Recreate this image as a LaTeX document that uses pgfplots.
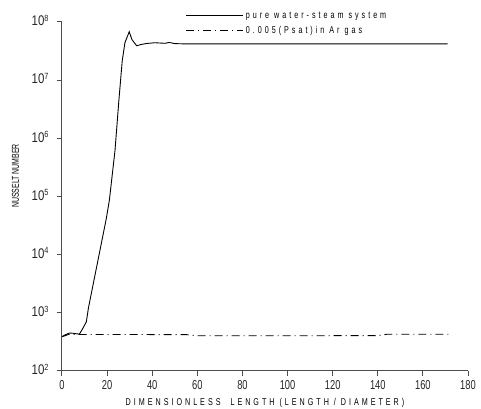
\documentclass[border=0pt]{standalone}
\usepackage{fontspec}
\usepackage{pgfplots}
\pgfplotsset{compat=1.18}
\newfontfamily\lab[FakeStretch=0.72, LetterSpace=30]{Liberation Sans}
\newfontfamily\ylab[FakeStretch=0.7]{Liberation Sans}
\newfontfamily\tck[FakeStretch=0.72]{Liberation Sans}
\newfontfamily\ytck[FakeStretch=0.82]{Liberation Sans}
\newcommand{\tp}[1]{10\raisebox{0.6ex}{\fontsize{9}{9}\selectfont #1}}
\begin{document}
\begin{tikzpicture}
\begin{axis}[
  name=ax,
  scale only axis,
  width=406bp, height=349bp,
  xmin=0, xmax=180,
  ymode=log, ymin=1e2, ymax=1e8,
  axis lines=left,
  axis line style={black!70, line width=1bp, -},
  tick style={black!70, line width=1bp},
  tick align=outside,
  major tick length=5bp,
  minor tick num=0,
  xtick={0,20,40,60,80,100,120,140,160,180},
  xticklabels={0,20,40,60,80,100,120,140,160,180},
  ytick={1e2,1e3,1e4,1e5,1e6,1e7,1e8},
  yticklabels={\tp{2},\tp{3},\tp{4},\tp{5},\tp{6},\tp{7},\tp{8}},
  log basis y=10,
  xticklabel style={font=\tck\fontsize{13}{14}\selectfont, text=black!85, yshift=-1bp},
  yticklabel style={font=\ytck\fontsize{14}{14}\selectfont, text=black!85, xshift=-5bp, yshift=1.5bp},
  xlabel={DIMENSIONLESS\ \ LENGTH (LENGTH / DIAMETER)},
  xlabel style={font=\lab\fontsize{10}{10}\selectfont, at={(axis description cs:0.5,0)}, anchor=center, yshift=-32bp},
  ylabel={NUSSELT NUMBER},
  ylabel style={font=\ylab\fontsize{10}{10}\selectfont, at={(axis description cs:0,0.559)}, anchor=center, yshift=46.5bp},
  clip=false,
  legend style={draw=none, fill=none, at={(rel axis cs:0.305,1.035)}, anchor=north west, inner sep=0pt, font=\lab\fontsize{10}{10}\selectfont, row sep=2bp, cells={anchor=west}},
  legend cell align=left,
  legend image code/.code={\draw[#1] (0bp,0bp) -- (57bp,0bp);},
]
\addplot[black, line width=0.9bp] coordinates {
(0,390) (1.5,420) (3.3,450) (5,445) (7.7,430) (9,520) (10.8,700) (11.7,1200) (16,8200) (19.5,3.9e4) (21,8.6e4) (23.5,6.2e5) (25.2,4.4e6) (26.7,2.15e7) (27.9,4.4e7) (29.8,6.8e7) (31,5e7) (33.1,3.9e7) (35,4.1e7) (37.5,4.27e7) (41.2,4.4e7) (45.7,4.3e7) (47.5,4.45e7) (50,4.25e7) (55,4.2e7) (171,4.2e7)
};
\addlegendentry{pure water-steam system}
\addplot[black, line width=0.9bp, dash pattern=on 8bp off 4bp on 1bp off 4bp] coordinates {
(0,390) (1,400) (3,426) (5,426) (10,424) (30,424) (55,422) (60,404) (100,404) (140,405) (144,428) (172,428)
};
\addlegendentry{0.005(Psat)in Ar gas}
\end{axis}
\pgfresetboundingbox
\path ([shift={(-62bp,-38bp)}]ax.south west) rectangle ([shift={(13bp,22bp)}]ax.north east);
\end{tikzpicture}
\end{document}
